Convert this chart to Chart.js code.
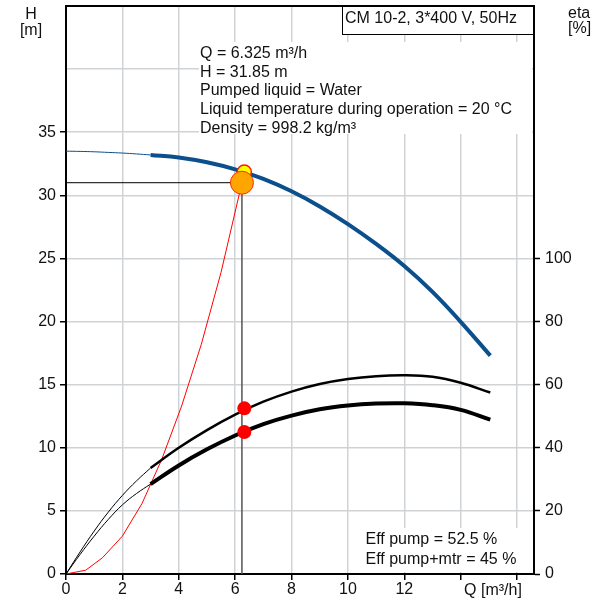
<!DOCTYPE html>
<html>
<head>
<meta charset="utf-8">
<script src="https://cdn.jsdelivr.net/npm/chart.js@4.4.1/dist/chart.umd.min.js"></script>
<style>
html,body{margin:0;padding:0;background:#fff;}
#wrap{width:599px;height:601px;position:relative;}
</style>
</head>
<body>
<div id="wrap"><canvas id="c" width="599" height="601"></canvas></div>
<script>
// ---- data ----
const qThin = [0, 0.5, 1, 1.5, 2, 2.5, 3];
const headThin = [33.5, 33.48, 33.45, 33.4, 33.35, 33.28, 33.2];
const etaPumpThin = [0, 7.0, 13.6, 19.6, 24.9, 29.5, 33.6];
const etaTotalThin = [0, 6.2, 12.0, 17.3, 21.9, 25.5, 28.5];

const qMain = [3, 4, 5, 6, 7, 8, 9, 10, 11, 12, 13, 14, 15.05];
const headMain = [33.2, 33.0, 32.62, 32.06, 31.3, 30.32, 29.12, 27.72, 26.15, 24.4, 22.35, 19.98, 17.3];
const etaPump = [33.6, 40.0, 45.6, 50.5, 54.6, 57.8, 60.2, 61.8, 62.7, 63.0, 62.5, 60.6, 57.5];
const etaTotal = [28.5, 34.4, 39.5, 43.9, 47.5, 50.2, 52.2, 53.4, 54.0, 54.1, 53.5, 52.0, 48.9];

const qSystem = [0, 0.7, 1.3, 2, 2.7, 3.4, 4.1, 4.8, 5.5, 6.24];
const headSystem = [0, 0.3, 1.3, 3.0, 5.6, 9.1, 13.3, 18.2, 23.9, 31.0];

const dutyQ = 6.325, dutyH = 31.85, dutyEtaPump = 52.5, dutyEtaTotal = 45;
const opQ = 6.24, opH = 31.0;

const xTickLabels = [0, 2, 4, 6, 8, 10, 12];
const hTickLabels = [0, 5, 10, 15, 20, 25, 30, 35];
const etaTickLabels = [0, 20, 40, 60, 80, 100];

const titleText = 'CM 10-2, 3*400 V, 50Hz';
const infoLines = ['Q = 6.325 m³/h', 'H = 31.85 m', 'Pumped liquid = Water',
  'Liquid temperature during operation = 20 °C', 'Density = 998.2 kg/m³'];
const effLines = ['Eff pump = 52.5 %', 'Eff pump+mtr = 45 %'];

// ---- helpers ----
const zip = (xs, ys) => xs.map((x, i) => ({x: x, y: ys[i]}));
const FONT = '"Liberation Sans", Arial, sans-serif';
const FS = 16;
const BLUE = '#0b4f8c';
const GRID = '#cfd3d6';

const overlay = {
  id: 'overlay',
  beforeDatasetsDraw(chart) {
    const ctx = chart.ctx;
    ctx.save();
    ctx.fillStyle = '#fff';
    ctx.fillRect(199, 42, 333, 92);
    ctx.fillRect(360, 528, 162, 44);
    // title box
    ctx.fillRect(342, 6, 191, 28.5);
    ctx.strokeStyle = '#000';
    ctx.lineWidth = 1;
    ctx.strokeRect(342.5, 6.5, 191, 28);
    ctx.fillStyle = '#111';
    ctx.font = FS + 'px ' + FONT;
    ctx.textBaseline = 'middle';
    ctx.textAlign = 'left';
    ctx.fillText(titleText, 345, 18.5);
    infoLines.forEach((t, i) => ctx.fillText(t, 200, 53.5 + i * 18.75));
    effLines.forEach((t, i) => ctx.fillText(t, 365.5, 539.5 + i * 20));
    ctx.restore();
  },
  afterDraw(chart) {
    const ctx = chart.ctx;
    const a = chart.chartArea;
    ctx.save();
    ctx.strokeStyle = '#000';
    ctx.lineWidth = 2;
    ctx.beginPath();
    ctx.moveTo(a.left - 1, a.top);
    ctx.lineTo(a.right + 1, a.top);
    ctx.stroke();
    ctx.fillStyle = '#111';
    ctx.font = FS + 'px ' + FONT;
    ctx.textBaseline = 'middle';
    ctx.textAlign = 'center';
    ctx.fillText('H', 31, 15);
    ctx.fillText('[m]', 31, 31);
    ctx.fillText('Q [m³/h]', 493, 590.5);
    ctx.textAlign = 'left';
    ctx.fillText('eta', 568, 14);
    ctx.fillText('[%]', 568, 28.5);
    ctx.restore();
  }
};

const lineDs = (data, color, width, order, axis, tension) => ({
  type: 'line', data: data, borderColor: color, borderWidth: width,
  pointRadius: 0, fill: false, tension: tension, yAxisID: axis || 'y', order: order
});

new Chart(document.getElementById('c'), {
  type: 'scatter',
  data: {
    datasets: [
      // markers
      {type: 'scatter', data: [{x: opQ, y: opH}], pointRadius: 11.5, pointBackgroundColor: '#ffa500',
       pointBorderColor: '#ff2a00', pointBorderWidth: 1, order: 0, yAxisID: 'y'},
      {type: 'scatter', data: [{x: dutyQ, y: dutyH}], pointRadius: 7, pointBackgroundColor: '#ffff00',
       pointBorderColor: '#ff1a00', pointBorderWidth: 1.5, order: 1, yAxisID: 'y'},
      {type: 'scatter', data: [{x: dutyQ, y: dutyEtaPump}, {x: dutyQ, y: dutyEtaTotal}], pointRadius: 7,
       pointBackgroundColor: '#ff0000', pointBorderColor: '#ff0000', pointBorderWidth: 0, order: 2, yAxisID: 'y2'},
      // curves
      lineDs(zip(qMain, headMain), BLUE, 4, 3, 'y', 0.4),
      lineDs(zip(qThin, headThin), BLUE, 1, 4, 'y', 0.4),
      lineDs(zip(qMain, etaPump), '#000', 2.5, 5, 'y2', 0.4),
      lineDs(zip(qThin, etaPumpThin), '#000', 1, 6, 'y2', 0.4),
      lineDs(zip(qMain, etaTotal), '#000', 4, 7, 'y2', 0.4),
      lineDs(zip(qThin, etaTotalThin), '#000', 1, 8, 'y2', 0.4),
      lineDs(zip(qSystem, headSystem), '#ff0000', 1, 9, 'y', 0),
      // operating point guide lines
      lineDs([{x: 0, y: opH}, {x: opQ, y: opH}], '#000', 1, 10, 'y', 0),
      lineDs([{x: opQ, y: opH}, {x: opQ, y: 0}], '#555', 1.5, 11, 'y', 0)
    ]
  },
  options: {
    responsive: false,
    animation: false,
    devicePixelRatio: 1,
    layout: {autoPadding: false, padding: {top: 6, left: 0, right: 0, bottom: 0}},
    plugins: {legend: {display: false}, tooltip: {enabled: false}},
    scales: {
      x: {
        type: 'linear', min: 0, max: 16.6,
        afterFit: s => { s.height = 27; s.paddingLeft = 0; s.paddingRight = 0; },
        border: {color: '#000', width: 2},
        grid: {color: GRID, lineWidth: 1.5, tickLength: 6, tickColor: '#000', tickWidth: 1.5},
        ticks: {stepSize: 2, includeBounds: false, padding: 0, color: '#111', maxRotation: 0,
          font: {family: FONT, size: FS},
          callback: v => xTickLabels.includes(v) ? String(v) : ''}
      },
      y: {
        type: 'linear', position: 'left', min: 0, max: 45,
        afterFit: s => { s.width = 66; s.paddingTop = 0; s.paddingBottom = 0; },
        border: {color: '#000', width: 2},
        grid: {color: GRID, lineWidth: 1.5, tickLength: 6, tickWidth: 1.5,
          tickColor: c => (c.tick && hTickLabels.includes(c.tick.value)) ? '#000' : 'rgba(0,0,0,0)'},
        ticks: {stepSize: 5, padding: 4, color: '#111', font: {family: FONT, size: FS},
          callback: v => hTickLabels.includes(v) ? String(v) : ''}
      },
      y2: {
        type: 'linear', position: 'right', min: 0, max: 180,
        afterFit: s => { s.width = 65; s.paddingTop = 0; s.paddingBottom = 0; },
        border: {color: '#000', width: 2},
        grid: {drawOnChartArea: false, tickLength: 6, tickWidth: 1.5,
          tickColor: c => (c.tick && etaTickLabels.includes(c.tick.value)) ? '#000' : 'rgba(0,0,0,0)'},
        ticks: {stepSize: 20, padding: 5, color: '#111', font: {family: FONT, size: FS},
          callback: v => etaTickLabels.includes(v) ? String(v) : ''}
      }
    }
  },
  plugins: [overlay]
});
</script>
</body>
</html>
